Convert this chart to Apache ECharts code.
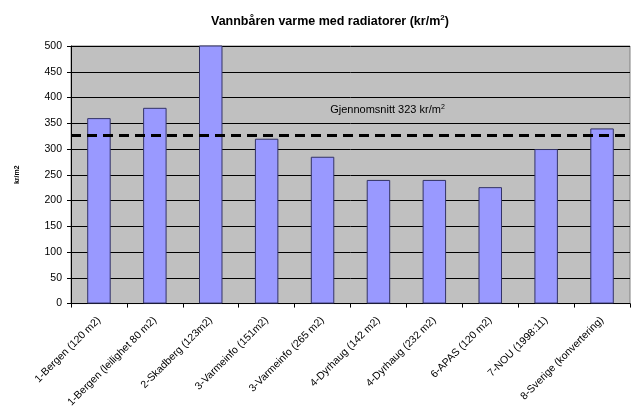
<!DOCTYPE html>
<html><head><meta charset="utf-8">
<script src="https://cdn.jsdelivr.net/npm/echarts@6/dist/echarts.min.js"></script>
<style>html,body{margin:0;padding:0;background:#fff}#c{width:636px;height:410px}</style>
</head><body><div id="c"></div>
<script>
var categories = ['1-Bergen (120 m2)','1-Bergen (leilighet 80 m2)','2-Skadberg (123m2)','3-Varmeinfo (151m2)','3-Varmeinfo (265 m2)','4-Dyrhaug (142 m2)','4-Dyrhaug (232 m2)','6-APAS (120 m2)','7-NOU (1998:11)','8-Sverige (konvertering)'];
var values = [360, 380, 540, 320, 285, 240, 240, 226, 300, 340];
var averageValue = 326;
var averageLabel = 'Gjennomsnitt 323 kr/m';
var yTicks = [0, 50, 100, 150, 200, 250, 300, 350, 400, 450, 500];

var font = 'Liberation Sans, Arial, sans-serif';
var chart = echarts.init(document.getElementById('c'), null, {renderer: 'canvas'});
chart.setOption({
  animation: false,
  backgroundColor: '#ffffff',
  title: {
    text: '{t|Vannbåren varme med radiatorer (kr/m}{s|2}{t|)}',
    left: 206, top: 9,
    textStyle: {
      rich: {
        t: {fontFamily: font, fontWeight: 'bold', fontSize: 12.5, color: '#000', lineHeight: 16},
        s: {fontFamily: font, fontWeight: 'bold', fontSize: 8, color: '#000', verticalAlign: 'top', lineHeight: 9}
      }
    }
  },
  grid: {left: 71, right: 6, top: 46, bottom: 106, show: true, backgroundColor: '#c0c0c0', borderColor: '#808080', borderWidth: 1},
  xAxis: {
    type: 'category', data: categories,
    axisLine: {lineStyle: {color: '#000', width: 1}},
    axisTick: {show: true, alignWithLabel: false, length: 4, lineStyle: {color: '#000'}},
    axisLabel: {rotate: 45, interval: 0, margin: 15, fontFamily: font, fontSize: 10.5, color: '#000'}
  },
  yAxis: {
    type: 'value', min: yTicks[0], max: yTicks[yTicks.length - 1], interval: yTicks[1] - yTicks[0],
    name: 'kr/m2', nameLocation: 'middle', nameGap: 50, nameRotate: 90,
    nameTextStyle: {fontFamily: font, fontSize: 7, fontWeight: 'bold', color: '#000'},
    axisLine: {show: true, lineStyle: {color: '#000', width: 1}},
    axisTick: {show: true, length: 4, lineStyle: {color: '#000'}},
    axisLabel: {margin: 9, fontFamily: font, fontSize: 10.5, color: '#000'},
    splitLine: {show: true, lineStyle: {color: '#000', width: 1}}
  },
  series: [{
    type: 'bar', data: values, barWidth: '42%', clip: true,
    itemStyle: {color: '#9999ff', borderColor: '#333366', borderWidth: 1},
    markLine: {
      silent: true, symbol: 'none',
      lineStyle: {type: [10, 6], color: '#000', width: 3},
      label: {
        show: true, position: 'insideMiddleTop', offset: [37, -14],
        formatter: '{a|' + averageLabel + '}{s|2}',
        rich: {
          a: {fontFamily: font, fontSize: 11, color: '#000', lineHeight: 13},
          s: {fontFamily: font, fontSize: 7, color: '#000', verticalAlign: 'top', lineHeight: 8}
        }
      },
      data: [{yAxis: averageValue}]
    }
  }]
});
</script></body></html>
